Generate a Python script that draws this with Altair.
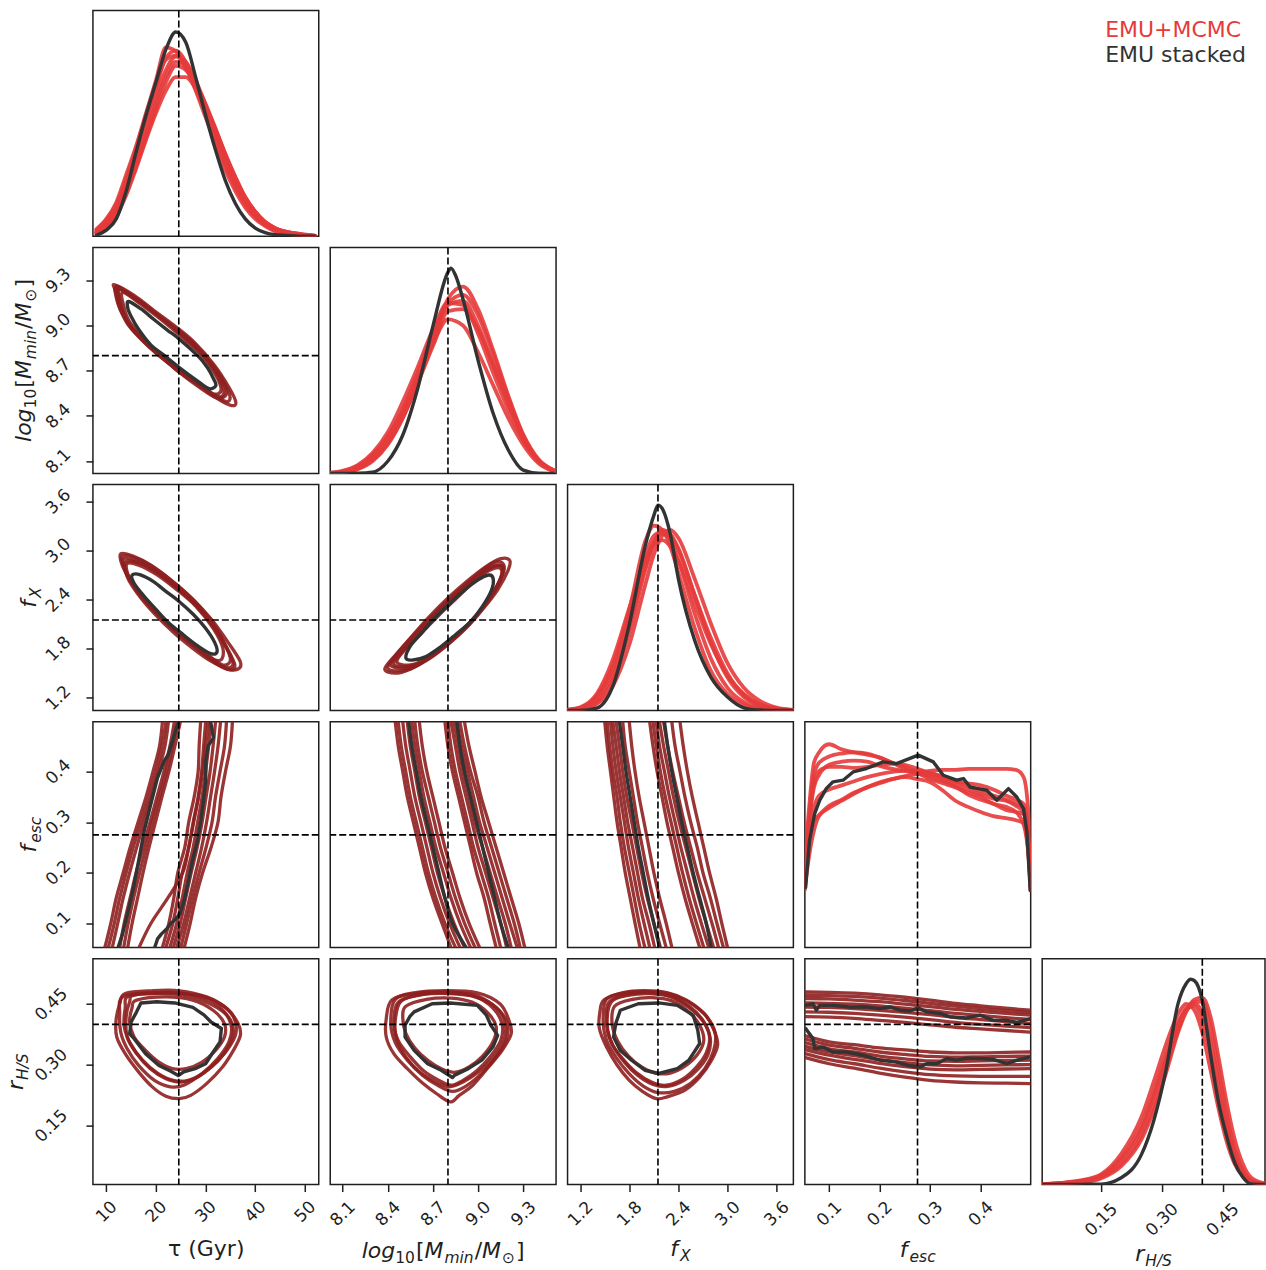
import altair as alt
import pandas as pd

FONT = "DejaVu Sans"
RED = "#e63b3b"
DRED = "#8e1f1f"
BLK = "#333333"
FRAME = "#1f1f1f"

PW = 226
PW_LAST = 223
GAP_COL = 11.5
GAP_ROW = 11.25

# ---------------- parameters / axes ----------------
TRUTH = {"tau": 24.6, "m": 8.80, "fx": 2.15, "fesc": 0.275, "r": 0.40}
DOM = {"tau": [7.3, 52.8], "m": [8.018, 9.518], "fx": [1.045, 3.805],
       "fesc": [0.052, 0.499], "r": [0.005, 0.562]}
TICKS = {"tau": [10, 20, 30, 40, 50], "m": [8.1, 8.4, 8.7, 9.0, 9.3],
         "fx": [1.2, 1.8, 2.4, 3.0, 3.6], "fesc": [0.1, 0.2, 0.3, 0.4],
         "r": [0.15, 0.30, 0.45]}
FMT = {"tau": "d", "m": ".1f", "fx": ".1f", "fesc": ".1f", "r": ".2f"}
XPAD = {"tau": 20, "m": 22, "fx": 22, "fesc": 22, "r": 28}
YPAD = {"m": 28, "fx": 28, "fesc": 28, "r": 35}

# ---------------- 1D marginals ----------------
TAU_GRID = [8, 10, 12, 14, 16, 18, 20, 22, 24, 26, 28, 30, 32, 34, 36, 38, 40, 42, 44, 48, 52]
TAU_BLACK = [0.005, 0.03, 0.085, 0.22, 0.41, 0.59, 0.75, 0.91, 0.995, 0.945, 0.775, 0.59,
             0.42, 0.27, 0.16, 0.085, 0.04, 0.018, 0.008, 0.002, 0.0]
TAU_RED = [
    [.035, .085, .165, .30, .44, .60, .76, .92, .90, .83, .71, .58, .45, .32, .22, .14, .085, .05, .025, .006, 0],
    [.025, .07, .14, .26, .41, .57, .72, .87, .905, .85, .74, .62, .49, .36, .25, .16, .10, .06, .035, .01, .001],
    [.02, .06, .125, .24, .38, .53, .68, .81, .875, .85, .76, .64, .51, .38, .26, .17, .105, .06, .035, .012, .002],
    [.015, .05, .11, .21, .34, .48, .62, .75, .83, .81, .74, .64, .52, .39, .28, .185, .12, .07, .04, .014, .003],
    [.012, .04, .10, .20, .33, .47, .60, .71, .775, .775, .72, .63, .52, .40, .29, .19, .12, .07, .04, .015, .003],
    [.03, .08, .155, .28, .43, .59, .74, .86, .88, .82, .72, .60, .47, .345, .24, .155, .095, .055, .03, .008, .001],
    [.018, .055, .12, .23, .36, .50, .65, .78, .85, .83, .75, .645, .525, .40, .285, .19, .12, .07, .04, .013, .002],
]

M_GRID = [8.02, 8.1, 8.2, 8.3, 8.4, 8.5, 8.6, 8.7, 8.8, 8.9, 9.0, 9.1, 9.2, 9.3, 9.4, 9.5]
M_BLACK_X = [8.02, 8.1, 8.2, 8.3, 8.4, 8.5, 8.6, 8.7, 8.8, 8.82, 8.85, 8.9, 9.0, 9.1, 9.2, 9.3, 9.4, 9.5]
M_BLACK_Y = [0, 0, .001, .006, .059, .187, .416, .717, .98, 1.0, .965, .848, .551, .293, .115, .016, .001, 0]
M_RED = [
    [.003, .012, .04, .10, .20, .35, .52, .70, .83, .82, .68, .49, .31, .16, .06, .015],
    [.001, .004, .02, .06, .14, .27, .45, .66, .85, .91, .80, .60, .38, .19, .07, .015],
    [.002, .01, .035, .09, .18, .31, .47, .63, .75, .72, .59, .43, .27, .14, .05, .01],
    [.001, .005, .025, .07, .15, .28, .45, .64, .83, .87, .77, .58, .37, .18, .065, .015],
    [.002, .008, .03, .08, .17, .31, .49, .68, .82, .84, .72, .53, .34, .17, .06, .014],
    [.001, .006, .022, .065, .145, .27, .44, .62, .79, .80, .70, .53, .35, .18, .065, .016],
]

FX_GRID = [1.04, 1.2, 1.4, 1.6, 1.8, 2.0, 2.1, 2.2, 2.3, 2.4, 2.6, 2.8, 3.0, 3.2, 3.4, 3.6, 3.8]
FX_BLACK_X = [1.04, 1.2, 1.4, 1.6, 1.8, 2.0, 2.1, 2.15, 2.2, 2.3, 2.4, 2.6, 2.8, 3.0, 3.2, 3.4, 3.6, 3.8]
FX_BLACK_Y = [0, 0, .011, .12, .42, .81, .95, 1.0, .985, .86, .64, .34, .16, .065, .013, .002, 0, 0]
FX_RED = [
    [.003, .012, .07, .22, .49, .83, .90, .88, .80, .67, .40, .19, .08, .028, .008, .002, 0],
    [.001, .006, .04, .15, .38, .69, .81, .88, .86, .79, .56, .33, .16, .065, .022, .006, .001],
    [.004, .016, .08, .25, .50, .74, .81, .83, .80, .73, .52, .32, .17, .08, .03, .01, .002],
    [.001, .004, .03, .12, .32, .62, .76, .85, .88, .84, .64, .42, .23, .11, .045, .014, .003],
    [.003, .013, .065, .20, .45, .76, .85, .87, .83, .73, .47, .25, .11, .04, .012, .003, 0],
    [.002, .009, .05, .17, .41, .71, .82, .86, .85, .78, .56, .35, .18, .075, .026, .008, .001],
]

FESC_GRID = [0.052, 0.06, 0.07, 0.08, 0.1, 0.125, 0.15, 0.175, 0.2, 0.225, 0.25, 0.275, 0.3,
             0.325, 0.35, 0.375, 0.4, 0.425, 0.45, 0.47, 0.485, 0.495, 0.499]
FESC_RED = [
    [.41, .67, .90, .95, .99, .965, .95, .94, .925, .90, .87, .85, .82, .80, .78, .755, .735, .70, .685, .66, .60, .44, .28],
    [.31, .59, .78, .84, .89, .905, .91, .905, .885, .87, .86, .85, .86, .865, .865, .87, .87, .87, .87, .865, .83, .635, .31],
    [.29, .44, .57, .64, .68, .715, .75, .78, .80, .82, .835, .845, .84, .82, .795, .77, .745, .725, .715, .69, .66, .47, .31],
    [.28, .59, .62, .645, .69, .72, .755, .78, .805, .82, .83, .82, .805, .765, .715, .685, .66, .64, .63, .62, .605, .44, .28],
    [.36, .59, .84, .90, .93, .945, .95, .945, .925, .90, .88, .855, .83, .81, .785, .745, .72, .70, .67, .66, .65, .505, .34],
    [.33, .62, .80, .86, .88, .88, .875, .88, .89, .895, .89, .87, .85, .83, .81, .80, .79, .77, .74, .72, .70, .52, .30],
    [.30, .52, .68, .74, .77, .79, .81, .83, .845, .855, .86, .86, .85, .835, .81, .785, .76, .74, .72, .70, .68, .50, .30],
]
FESC_BLACK_X = [.0535, .0612, .0714, .0813, .0946, .1078, .1276, .1475, .174, .207, .2335, .26, .2764,
                .3063, .326, .3523, .366, .3788, .3954, .412, .432, .455, .4715, .4848, .4915, .4981]
FESC_BLACK_Y = [.293, .521, .652, .717, .775, .807, .815, .855, .872, .904, .896, .921, .937,
                .904, .839, .815, .823, .782, .774, .766, .717, .774, .733, .676, .562, .277]

R_GRID = [0.005, 0.05, 0.1, 0.15, 0.2, 0.25, 0.28, 0.31, 0.34, 0.36, 0.38, 0.40, 0.42, 0.44, 0.46, 0.48, 0.50, 0.52, 0.555]
R_BLACK_X = [0.005, 0.05, 0.1, 0.15, 0.2, 0.25, 0.28, 0.31, 0.34, 0.36, 0.371, 0.38, 0.40, 0.42, 0.44, 0.46, 0.48, 0.50, 0.52, 0.555]
R_BLACK_Y = [0, 0, .001, .002, .033, .147, .31, .554, .88, .978, 1.0, .994, .896, .636, .40, .236, .106, .036, .003, 0]
R_RED = [
    [.002, .008, .02, .05, .15, .33, .50, .68, .83, .88, .85, .74, .56, .37, .21, .10, .04, .012, .002],
    [.001, .004, .01, .03, .09, .22, .36, .54, .74, .84, .90, .91, .82, .62, .40, .22, .10, .035, .005],
    [.002, .007, .018, .045, .13, .29, .45, .63, .79, .85, .87, .80, .64, .44, .26, .13, .05, .015, .002],
    [.001, .005, .012, .035, .10, .24, .39, .57, .75, .85, .89, .89, .77, .56, .34, .17, .07, .02, .003],
    [.002, .006, .015, .04, .12, .27, .43, .61, .78, .86, .88, .84, .70, .50, .30, .15, .06, .018, .002],
]

# ---------------- 2D contours ----------------
C10_RED = [
    [[11.7, 9.27], [15.6, 9.20], [19.6, 9.10], [23.7, 9.00], [27.7, 8.89], [31.7, 8.74], [34.7, 8.59], [36.1, 8.49],
     [35.1, 8.47], [31.7, 8.53], [28.4, 8.62], [24.3, 8.71], [20.3, 8.81], [17.0, 8.91], [14.3, 9.01], [12.4, 9.14], [11.7, 9.24]],
    [[12.3, 9.26], [16.3, 9.17], [20.3, 9.07], [24.3, 8.97], [28.4, 8.85], [31.7, 8.71], [33.4, 8.60], [33.6, 8.54],
     [32.4, 8.53], [29.0, 8.60], [25.0, 8.69], [21.0, 8.79], [17.3, 8.90], [14.6, 9.01], [12.9, 9.13], [12.4, 9.22]],
    [[13.3, 9.22], [17.0, 9.14], [21.0, 9.04], [25.0, 8.93], [29.0, 8.81], [31.7, 8.69], [33.1, 8.59], [32.7, 8.55],
     [31.1, 8.55], [28.4, 8.61], [24.3, 8.70], [20.7, 8.81], [17.3, 8.92], [14.6, 9.03], [13.5, 9.13]],
    [[12.6, 9.24], [16.6, 9.16], [20.7, 9.06], [24.7, 8.95], [28.7, 8.83], [32.1, 8.70], [34.1, 8.58], [33.9, 8.53],
     [32.1, 8.52], [28.7, 8.59], [24.7, 8.69], [20.9, 8.80], [17.3, 8.91], [14.3, 9.02], [12.9, 9.14]],
    [[12.0, 9.25], [16.0, 9.18], [20.0, 9.08], [24.0, 8.98], [28.0, 8.87], [31.9, 8.72], [34.4, 8.58], [34.9, 8.51],
     [33.7, 8.50], [30.3, 8.57], [26.6, 8.66], [22.6, 8.76], [18.6, 8.87], [15.2, 8.98], [12.9, 9.10], [12.0, 9.21]],
]
C10_BLK = [[[14.5, 9.16], [17.0, 9.11], [19.6, 9.04], [22.3, 8.97], [24.7, 8.91], [28.4, 8.80], [30.4, 8.72], [31.7, 8.64],
            [32.05, 8.60], [30.7, 8.58], [28.4, 8.63], [24.7, 8.72], [21.7, 8.80], [19.0, 8.87], [16.6, 8.97], [15.0, 9.06], [14.3, 9.12]]]

C20_RED = [
    [[12.9, 2.96], [15.5, 2.93], [19.0, 2.82], [23.0, 2.64], [27.0, 2.43], [31.0, 2.17], [34.5, 1.88], [37.0, 1.64],
     [36.5, 1.55], [34.0, 1.56], [30.0, 1.72], [26.0, 1.92], [22.0, 2.12], [18.0, 2.38], [15.0, 2.62], [13.2, 2.82]],
    [[13.5, 2.90], [16.0, 2.87], [19.5, 2.76], [23.5, 2.58], [27.5, 2.37], [31.0, 2.12], [33.8, 1.86], [35.0, 1.66],
     [33.5, 1.60], [30.5, 1.72], [26.5, 1.90], [22.5, 2.10], [18.5, 2.34], [15.5, 2.57], [13.8, 2.75]],
    [[14.2, 2.84], [16.5, 2.82], [20.0, 2.71], [24.0, 2.53], [28.0, 2.32], [31.5, 2.05], [33.5, 1.80], [33.0, 1.66],
     [30.5, 1.70], [27.0, 1.86], [23.0, 2.06], [19.0, 2.30], [16.0, 2.52], [14.4, 2.70]],
    [[13.8, 2.86], [17.0, 2.84], [20.5, 2.72], [24.5, 2.53], [28.5, 2.30], [32.0, 2.03], [34.8, 1.74], [35.5, 1.60],
     [34.0, 1.57], [31.0, 1.65], [27.5, 1.80], [23.5, 2.00], [19.5, 2.24], [16.2, 2.48], [14.2, 2.68]],
    [[13.2, 2.93], [16.2, 2.90], [19.8, 2.78], [23.8, 2.60], [27.8, 2.38], [31.6, 2.10], [34.4, 1.80], [35.9, 1.60],
     [35.0, 1.54], [32.0, 1.62], [28.3, 1.80], [24.3, 2.00], [20.2, 2.24], [16.5, 2.50], [14.0, 2.74]],
]
C20_BLK = [[[15.2, 2.70], [17.0, 2.70], [19.5, 2.62], [22.0, 2.50], [24.6, 2.38], [27.5, 2.22], [30.0, 2.05], [31.8, 1.88],
            [32.3, 1.76], [31.0, 1.74], [28.5, 1.83], [25.5, 1.97], [22.5, 2.12], [20.0, 2.28], [17.5, 2.45], [15.6, 2.60]]]

C21_RED = [
    [[8.38, 1.55], [8.45, 1.50], [8.55, 1.55], [8.68, 1.68], [8.80, 1.85], [8.92, 2.05], [9.03, 2.28], [9.13, 2.52],
     [9.20, 2.76], [9.21, 2.88], [9.15, 2.90], [9.05, 2.80], [8.93, 2.63], [8.80, 2.42], [8.67, 2.18], [8.55, 1.93], [8.45, 1.72]],
    [[8.42, 1.60], [8.50, 1.56], [8.60, 1.61], [8.72, 1.75], [8.84, 1.93], [8.95, 2.13], [9.05, 2.35], [9.13, 2.58],
     [9.17, 2.78], [9.12, 2.82], [9.03, 2.74], [8.92, 2.57], [8.80, 2.37], [8.68, 2.15], [8.57, 1.92], [8.47, 1.74]],
    [[8.46, 1.64], [8.54, 1.60], [8.64, 1.66], [8.76, 1.80], [8.87, 1.98], [8.98, 2.19], [9.08, 2.42], [9.15, 2.65],
     [9.15, 2.78], [9.08, 2.76], [8.98, 2.63], [8.87, 2.44], [8.75, 2.23], [8.63, 2.00], [8.52, 1.80]],
    [[8.40, 1.57], [8.49, 1.53], [8.58, 1.58], [8.70, 1.72], [8.82, 1.90], [8.94, 2.10], [9.04, 2.32], [9.12, 2.55],
     [9.17, 2.74], [9.16, 2.85], [9.09, 2.84], [8.99, 2.70], [8.87, 2.51], [8.75, 2.30], [8.62, 2.06], [8.50, 1.82]],
    [[8.44, 1.62], [8.52, 1.58], [8.62, 1.63], [8.74, 1.77], [8.86, 1.95], [8.97, 2.16], [9.07, 2.39], [9.14, 2.62],
     [9.16, 2.80], [9.10, 2.80], [9.00, 2.68], [8.89, 2.50], [8.77, 2.29], [8.65, 2.06], [8.54, 1.85]],
]
C21_BLK = [[[8.52, 1.69], [8.56, 1.66], [8.65, 1.70], [8.75, 1.82], [8.85, 1.97], [8.95, 2.13], [9.03, 2.32], [9.09, 2.52],
            [9.10, 2.66], [9.07, 2.70], [9.0, 2.64], [8.90, 2.50], [8.80, 2.33], [8.70, 2.15], [8.62, 1.98], [8.55, 1.83]]]

# f_esc rows: contour edges read at these f_esc levels (top to bottom)
FESC_LEVELS = [0.498, 0.45, 0.40, 0.35, 0.30, 0.25, 0.20, 0.15, 0.10, 0.052]
C30_RED_X = [
    [21.3, 20.7, 19.4, 18.0, 16.4, 14.8, 13.4, 12.0, 10.9, 9.7],
    [22.0, 21.2, 20.0, 18.6, 17.0, 15.4, 14.0, 12.7, 11.6, 10.4],
    [22.5, 21.8, 20.5, 19.1, 17.6, 16.1, 14.7, 13.4, 12.3, 11.2],
    [23.7, 22.8, 21.6, 20.2, 18.8, 17.4, 16.0, 14.8, 13.6, 12.7],
    [24.3, 23.3, 22.1, 20.7, 19.3, 18.0, 16.7, 15.5, 14.4, 13.5],
    [24.9, 23.8, 22.6, 21.2, 19.9, 18.6, 17.4, 16.3, 15.2, 14.3],
    [29.0, 28.7, 28.5, 27.7, 26.6, 25.8, 24.4, 23.6, 22.6, 21.3],
    [30.0, 29.6, 29.2, 28.5, 27.5, 26.6, 25.3, 24.4, 23.4, 22.0],
    [31.0, 30.6, 30.0, 29.3, 28.4, 27.5, 26.3, 25.3, 24.2, 22.8],
    [32.0, 31.5, 30.9, 30.1, 29.3, 28.3, 27.1, 26.0, 24.9, 23.5],
    [33.0, 32.5, 31.8, 31.0, 30.2, 29.2, 28.0, 26.8, 25.6, 24.2],
    [34.2, 33.8, 32.9, 32.0, 31.3, 30.1, 28.7, 27.4, 26.2, 25.0],
    [35.4, 35.0, 34.0, 33.1, 32.5, 31.1, 29.4, 28.0, 26.9, 25.7],
    [30.5, 30.0, 29.4, 28.6, 27.6, 26.6, 25.4, 22.4, 19.0, 16.6],
]
C30_BLK = [
    [[24.48, .497], [24.0, .483], [23.33, .460], [22.46, .434], [21.65, .421], [20.31, .388], [18.97, .336],
     [17.63, .283], [16.63, .230], [15.49, .171], [14.28, .119], [13.27, .079], [12.4, .053]],
    [[31.05, .497], [31.58, .467], [30.51, .451], [30.04, .421], [30.04, .382], [29.57, .342], [29.03, .303],
     [28.36, .263], [27.36, .224], [26.55, .184], [25.68, .145], [24.88, .119], [23.67, .105], [22.86, .099],
     [22.19, .089], [21.12, .079], [20.31, .069], [19.78, .053]],
]
C31_RED_X = [
    [8.45, 8.47, 8.50, 8.53, 8.57, 8.61, 8.65, 8.70, 8.76, 8.82],
    [8.47, 8.49, 8.52, 8.55, 8.59, 8.63, 8.67, 8.72, 8.78, 8.85],
    [8.50, 8.52, 8.55, 8.58, 8.62, 8.66, 8.70, 8.75, 8.81, 8.88],
    [8.53, 8.55, 8.58, 8.61, 8.65, 8.69, 8.73, 8.78, 8.84, 8.91],
    [8.56, 8.58, 8.61, 8.64, 8.68, 8.72, 8.77, 8.82, 8.88, 8.95],
    [8.58, 8.60, 8.63, 8.67, 8.71, 8.75, 8.80, 8.85, 8.91, 8.98],
    [8.61, 8.63, 8.66, 8.70, 8.74, 8.78, 8.83, 8.88, 8.94, 9.01],
    [8.78, 8.80, 8.83, 8.87, 8.91, 8.95, 8.99, 9.04, 9.08, 9.12],
    [8.80, 8.82, 8.85, 8.89, 8.93, 8.97, 9.02, 9.07, 9.11, 9.15],
    [8.82, 8.85, 8.88, 8.92, 8.96, 9.00, 9.05, 9.10, 9.15, 9.19],
    [8.84, 8.87, 8.90, 8.94, 8.98, 9.03, 9.08, 9.13, 9.18, 9.22],
    [8.86, 8.89, 8.93, 8.97, 9.01, 9.06, 9.11, 9.16, 9.21, 9.26],
    [8.88, 8.91, 8.95, 9.00, 9.04, 9.09, 9.14, 9.19, 9.24, 9.28],
    [8.91, 8.94, 8.98, 9.02, 9.07, 9.12, 9.17, 9.22, 9.27, 9.31],
]
C31_BLK_X = [
    [8.54, 8.56, 8.59, 8.62, 8.66, 8.70, 8.74, 8.78, 8.83, 8.92],
    [8.86, 8.88, 8.91, 8.95, 8.99, 9.03, 9.07, 9.11, 9.15, 9.20],
]
C32_RED_X = [
    [1.50, 1.53, 1.57, 1.61, 1.65, 1.70, 1.75, 1.81, 1.87, 1.93],
    [1.53, 1.56, 1.60, 1.65, 1.69, 1.74, 1.80, 1.86, 1.92, 1.99],
    [1.57, 1.60, 1.64, 1.69, 1.74, 1.79, 1.85, 1.91, 1.98, 2.05],
    [1.60, 1.64, 1.68, 1.73, 1.78, 1.84, 1.90, 1.96, 2.04, 2.11],
    [1.64, 1.68, 1.72, 1.77, 1.83, 1.89, 1.95, 2.02, 2.10, 2.18],
    [1.72, 1.75, 1.80, 1.85, 1.90, 1.96, 2.02, 2.09, 2.17, 2.25],
    [1.80, 1.83, 1.87, 1.92, 1.98, 2.04, 2.10, 2.17, 2.25, 2.32],
    [2.05, 2.09, 2.14, 2.20, 2.26, 2.33, 2.40, 2.48, 2.57, 2.66],
    [2.09, 2.13, 2.18, 2.24, 2.31, 2.38, 2.45, 2.53, 2.62, 2.71],
    [2.13, 2.17, 2.23, 2.29, 2.36, 2.43, 2.51, 2.59, 2.68, 2.77],
    [2.17, 2.22, 2.28, 2.34, 2.41, 2.49, 2.57, 2.65, 2.74, 2.83],
    [2.22, 2.27, 2.33, 2.40, 2.47, 2.55, 2.63, 2.72, 2.81, 2.89],
    [2.32, 2.36, 2.42, 2.48, 2.55, 2.63, 2.70, 2.79, 2.87, 2.95],
    [2.42, 2.46, 2.51, 2.57, 2.64, 2.71, 2.78, 2.86, 2.93, 3.00],
]
C32_BLK_X = [
    [1.68, 1.72, 1.76, 1.81, 1.86, 1.91, 1.97, 2.03, 2.10, 2.17],
    [2.23, 2.27, 2.32, 2.38, 2.44, 2.51, 2.58, 2.66, 2.74, 2.80],
]

C40_RED = [
    [[13.8, .476], [19.25, .483], [24.7, .483], [30.2, .468], [34.3, .439], [36.55, .402], [37.0, .373], [35.6, .336],
     [33.4, .295], [30.2, .254], [27.0, .225], [24.7, .217], [22.0, .223], [19.25, .246], [16.5, .283], [13.8, .328],
     [12.1, .369], [11.96, .410], [12.7, .451]],
    [[15.6, .472], [22.0, .478], [28.4, .472], [32.9, .451], [35.6, .419], [36.1, .377], [34.3, .336], [31.5, .299],
     [28.4, .270], [25.2, .258], [22.0, .266], [18.8, .291], [16.1, .328], [14.2, .369], [14.0, .419], [14.7, .456]],
    [[16.1, .460], [22.0, .468], [27.4, .460], [31.5, .435], [33.8, .402], [33.8, .369], [32.0, .336], [29.3, .307],
     [26.1, .291], [23.3, .291], [20.6, .307], [17.9, .336], [15.6, .369], [14.7, .406], [15.15, .439]],
    [[13.3, .468], [19.25, .478], [25.6, .476], [30.6, .460], [33.8, .431], [35.2, .394], [34.7, .357], [32.45, .316],
     [29.3, .279], [25.6, .250], [22.9, .246], [19.7, .262], [16.5, .299], [14.2, .340], [12.9, .381], [12.7, .427]],
    [[14.5, .470], [20.6, .476], [26.5, .470], [31.0, .450], [34.5, .420], [35.6, .385], [34.8, .350], [32.5, .310],
     [29.5, .280], [26.5, .262], [23.5, .262], [20.3, .280], [17.3, .312], [14.9, .352], [13.6, .395], [13.8, .440]],
]
C40_BLK = [[[16.97, .453], [20.15, .456], [23.8, .453], [27.44, .442], [29.72, .423], [31.09, .406], [33.18, .390],
            [32.91, .357], [31.54, .332], [30.0, .303], [27.9, .291], [25.6, .283], [24.5, .274], [22.9, .285],
            [20.6, .299], [17.9, .328], [15.6, .365], [14.7, .377], [15.0, .406], [16.1, .431]]]

C41_RED = [
    [[8.426, .460], [8.575, .478], [8.785, .483], [8.995, .478], [9.145, .451], [9.205, .410], [9.22, .377], [9.16, .336],
     [9.07, .295], [8.965, .250], [8.875, .225], [8.815, .209], [8.725, .229], [8.635, .254], [8.53, .291], [8.44, .328],
     [8.39, .369], [8.39, .414]],
    [[8.47, .455], [8.62, .474], [8.80, .478], [8.97, .470], [9.10, .440], [9.16, .400], [9.15, .360], [9.08, .320],
     [8.99, .285], [8.90, .262], [8.82, .250], [8.74, .262], [8.64, .285], [8.55, .320], [8.47, .360], [8.44, .405]],
    [[8.52, .445], [8.66, .462], [8.82, .465], [8.96, .455], [9.06, .430], [9.12, .395], [9.10, .358], [9.03, .322],
     [8.94, .295], [8.85, .282], [8.76, .290], [8.67, .310], [8.58, .342], [8.52, .378], [8.50, .415]],
    [[8.45, .462], [8.60, .477], [8.78, .480], [8.96, .474], [9.10, .448], [9.19, .408], [9.19, .365], [9.12, .320],
     [9.02, .278], [8.92, .248], [8.83, .235], [8.74, .248], [8.63, .275], [8.53, .312], [8.45, .355], [8.42, .405]],
    [[8.49, .458], [8.64, .474], [8.81, .476], [8.98, .468], [9.12, .442], [9.18, .402], [9.17, .360], [9.10, .318],
     [9.00, .282], [8.90, .258], [8.81, .246], [8.72, .258], [8.61, .283], [8.52, .320], [8.46, .362], [8.45, .410]],
]
C41_BLK = [[[8.575, .431], [8.695, .451], [8.815, .453], [8.995, .447], [9.055, .423], [9.085, .398], [9.13, .373],
            [9.10, .345], [9.025, .312], [8.935, .291], [8.845, .275], [8.83, .269], [8.755, .287], [8.665, .303],
            [8.575, .336], [8.515, .369], [8.515, .398], [8.546, .419]]]

C42_RED = [
    [[1.49, .460], [1.713, .478], [1.99, .483], [2.27, .478], [2.50, .460], [2.715, .427], [2.826, .390], [2.88, .350],
     [2.80, .310], [2.66, .270], [2.48, .238], [2.27, .222], [2.13, .217], [1.96, .235], [1.80, .262], [1.65, .300],
     [1.52, .345], [1.434, .390], [1.44, .430]],
    [[1.55, .455], [1.77, .474], [2.03, .478], [2.30, .470], [2.53, .445], [2.70, .410], [2.78, .370], [2.74, .330],
     [2.62, .295], [2.45, .265], [2.25, .250], [2.07, .258], [1.88, .282], [1.72, .315], [1.58, .355], [1.52, .405]],
    [[1.62, .445], [1.84, .462], [2.08, .466], [2.32, .458], [2.52, .432], [2.66, .398], [2.71, .360], [2.63, .325],
     [2.48, .297], [2.30, .280], [2.12, .280], [1.95, .295], [1.79, .322], [1.66, .358], [1.59, .400]],
    [[1.52, .462], [1.75, .478], [2.02, .481], [2.30, .475], [2.55, .452], [2.75, .418], [2.85, .378], [2.83, .335],
     [2.72, .290], [2.55, .255], [2.35, .235], [2.15, .232], [1.97, .248], [1.80, .278], [1.64, .318], [1.52, .362],
     [1.48, .410]],
    [[1.58, .455], [1.80, .472], [2.05, .476], [2.31, .468], [2.54, .440], [2.71, .405], [2.79, .365], [2.76, .325],
     [2.64, .290], [2.47, .262], [2.27, .247], [2.09, .252], [1.90, .275], [1.74, .307], [1.60, .348], [1.53, .398]],
]
C42_BLK = [[[1.69, .435], [1.91, .451], [2.16, .453], [2.386, .447], [2.58, .423], [2.636, .386], [2.66, .353],
            [2.58, .328], [2.525, .311], [2.386, .291], [2.16, .279], [1.99, .287], [1.83, .311], [1.69, .336],
            [1.607, .369], [1.634, .402]]]

C43_GRID = [0.053, 0.1, 0.15, 0.2, 0.25, 0.3, 0.35, 0.4, 0.45, 0.498]
C43_RED_Y = [
    [.480, .479, .477, .473, .467, .460, .452, .446, .440, .435],
    [.472, .471, .469, .465, .459, .452, .445, .439, .434, .429],
    [.464, .463, .460, .456, .450, .444, .437, .432, .427, .423],
    [.453, .452, .450, .446, .440, .434, .427, .422, .417, .412],
    [.443, .442, .439, .435, .430, .424, .417, .412, .407, .402],
    [.431, .430, .427, .423, .418, .412, .405, .400, .396, .392],
    [.419, .418, .415, .410, .405, .399, .393, .389, .385, .381],
    [.372, .357, .350, .342, .337, .332, .330, .330, .331, .332],
    [.364, .349, .341, .332, .326, .321, .319, .320, .321, .322],
    [.355, .340, .332, .322, .315, .310, .309, .310, .311, .312],
    [.346, .332, .323, .313, .306, .300, .298, .299, .300, .301],
    [.338, .324, .314, .304, .296, .290, .288, .289, .290, .291],
    [.328, .313, .303, .292, .283, .276, .273, .272, .272, .272],
    [.318, .303, .292, .280, .270, .262, .258, .256, .255, .254],
]
C43_BLK = [
    [[.0536, .447], [.068, .451], [.0747, .435], [.0813, .447], [.108, .447], [.141, .443], [.174, .443], [.200, .439],
     [.220, .443], [.240, .435], [.260, .433], [.276, .441], [.293, .431], [.319, .427], [.339, .419], [.372, .416],
     [.399, .423], [.425, .410], [.452, .410], [.472, .405], [.498, .414]],
    [[.0536, .390], [.068, .365], [.0714, .340], [.088, .344], [.108, .332], [.134, .332], [.167, .324], [.200, .312],
     [.233, .307], [.260, .298], [.280, .295], [.293, .303], [.313, .303], [.333, .316], [.352, .312], [.372, .317],
     [.399, .316], [.425, .314], [.452, .303], [.472, .312], [.498, .320]],
]

# ---------------- text ----------------
LEGEND = [("EMU+MCMC", RED), ("EMU stacked", BLK)]
F_MAIN = 22
F_SUB = 15.5
SUB = 5
TITLE_SEGS = {
    "tau": [("τ (Gyr)", F_MAIN, False, 0, 0)],
    "m": [("log", F_MAIN, True, 0, 0), ("10", F_SUB, False, SUB, 1), ("[", F_MAIN, False, 0, 0),
          ("M", F_MAIN, True, 0, 1), ("min", F_SUB, True, SUB, 1), ("/", F_MAIN, False, 0, 0),
          ("M", F_MAIN, True, 0, 1), ("⊙", F_SUB, False, SUB, 1), ("]", F_MAIN, False, 0, 0)],
    "fx": [("f", F_MAIN, True, 0, 2), ("X", F_SUB, True, SUB, 0)],
    "fesc": [("f", F_MAIN, True, 0, 2), ("esc", F_SUB, True, SUB, 0)],
    "r": [("r", F_MAIN, True, 0, 1), ("H/S", F_SUB, True, SUB, 0)],
}
CW = {'l': .278, 'o': .612, 'g': .635, '1': .636, '0': .636, '[': .390, ']': .390, 'M': .863, 'm': .974,
      'i': .278, 'n': .634, '/': .337, '⊙': .838, 'f': .352, 'X': .685, 'e': .615, 's': .521, 'c': .550,
      'r': .411, 'H': .752, 'S': .635, 'τ': .562, ' ': .318, '(': .390, ')': .390, 'G': .775, 'y': .592}
XTITLE_BASE = {"tau": 297, "m": 299, "fx": 297, "fesc": 298, "r": 302}
YTITLE_BASE = {"m": -62, "fx": -57, "fesc": -57, "r": -70}

ONE = pd.DataFrame({"a": [0]})


def xdom(var, width):
    a, b = DOM[var]
    return [a, a + (b - a) * width / PW]


def axis_x(var):
    return alt.Axis(values=TICKS[var], format=FMT[var], labelAngle=315, labelAlign="center",
                    labelBaseline="middle", labelPadding=XPAD[var], tickSize=7, tickWidth=1.5,
                    tickColor=FRAME, labelColor=FRAME, labelFontSize=17, labelFont=FONT,
                    domain=False, grid=False, title=None, labelFlush=False, labelOverlap=False)


def axis_y(var):
    return alt.Axis(values=TICKS[var], format=FMT[var], labelAngle=315, labelAlign="center",
                    labelBaseline="middle", labelPadding=YPAD[var], tickSize=7, tickWidth=1.5,
                    tickColor=FRAME, labelColor=FRAME, labelFontSize=17, labelFont=FONT,
                    domain=False, grid=False, title=None, labelFlush=False, labelOverlap=False)


def curves_df(curves):
    rows = []
    for k, cur in enumerate(curves):
        for i, (x, y) in enumerate(cur):
            rows.append({"x": x, "y": y, "c": k, "i": i})
    return pd.DataFrame(rows)


def title_marks(var, cx, cy, vertical):
    segs = TITLE_SEGS[var]
    widths = [sum(CW.get(ch, 0.6) for ch in t) * s + k for (t, s, it, sh, k) in segs]
    total = sum(widths)
    off = -total / 2
    out = []
    for (t, s, it, sh, k), wdt in zip(segs, widths):
        if vertical:
            x, y, ang = cx + sh, cy - off, 270
        else:
            x, y, ang = cx + off, cy + sh, 0
        out.append(alt.Chart(ONE).mark_text(
            text=t, font=FONT, fontSize=s, fontStyle="italic" if it else "normal",
            align="left", baseline="alphabetic", angle=ang, color=FRAME
        ).encode(x=alt.value(x), y=alt.value(y)))
        off += wdt
    return out


def panel(xvar, yvar, reds, blacks, red_color, red_w, red_interp, blk_interp, width, show_x, show_y):
    xs = alt.Scale(domain=xdom(xvar, width), nice=False, zero=False)
    ydomain = [0, 1.1] if yvar is None else DOM[yvar]
    ys = alt.Scale(domain=ydomain, nice=False, zero=False)
    xa = axis_x(xvar) if show_x else None
    ya = axis_y(yvar) if (show_y and yvar is not None) else None

    def lines(curves, color, sw, interp, op):
        return alt.Chart(curves_df(curves)).mark_line(
            color=color, strokeWidth=sw, opacity=op, interpolate=interp, clip=True,
            strokeCap="round", strokeJoin="round"
        ).encode(x=alt.X("x:Q", scale=xs, axis=xa), y=alt.Y("y:Q", scale=ys, axis=ya),
                 detail="c:N", order="i:Q")

    layers = [lines(reds, red_color, red_w, red_interp, 0.9),
              lines(blacks, BLK, 3.4, blk_interp, 1.0)]
    layers.append(alt.Chart(pd.DataFrame({"v": [TRUTH[xvar]]})).mark_rule(
        color="black", strokeDash=[7, 3], strokeWidth=1.6).encode(x=alt.X("v:Q", scale=xs, axis=xa)))
    if yvar is not None:
        layers.append(alt.Chart(pd.DataFrame({"v": [TRUTH[yvar]]})).mark_rule(
            color="black", strokeDash=[7, 3], strokeWidth=1.6).encode(y=alt.Y("v:Q", scale=ys, axis=ya)))
    if show_x:
        layers += title_marks(xvar, width / 2, XTITLE_BASE[xvar], False)
    if show_y and yvar is not None:
        layers += title_marks(yvar, YTITLE_BASE[yvar], PW / 2, True)
    return alt.layer(*layers).properties(width=width, height=PW)


def empty_cell(width):
    return alt.Chart(ONE).mark_text(text="", fontSize=1).encode(
        x=alt.value(width / 2), y=alt.value(PW / 2)).properties(
        width=width, height=PW, view=alt.ViewBackground(stroke="transparent"))


def legend_cell(width):
    marks = []
    for j, (label, col) in enumerate(LEGEND):
        marks.append(alt.Chart(ONE).mark_text(text=label, font=FONT, fontSize=22, align="left",
                                              baseline="alphabetic", color=col)
                     .encode(x=alt.value(63), y=alt.value(27 + 25 * j)))
    return alt.layer(*marks).properties(width=width, height=PW, view=alt.ViewBackground(stroke="transparent"))


def pairs(xs_list, ys_list):
    return [list(zip(a, b)) for a, b in zip(xs_list, ys_list)]


VARS = ["tau", "m", "fx", "fesc", "r"]
DIAG = {
    "tau": (pairs([TAU_GRID] * len(TAU_RED), TAU_RED), [list(zip(TAU_GRID, TAU_BLACK))]),
    "m": (pairs([M_GRID] * len(M_RED), M_RED), [list(zip(M_BLACK_X, M_BLACK_Y))]),
    "fx": (pairs([FX_GRID] * len(FX_RED), FX_RED), [list(zip(FX_BLACK_X, FX_BLACK_Y))]),
    "fesc": (pairs([FESC_GRID] * len(FESC_RED), FESC_RED), [list(zip(FESC_BLACK_X, FESC_BLACK_Y))]),
    "r": (pairs([R_GRID] * len(R_RED), R_RED), [list(zip(R_BLACK_X, R_BLACK_Y))]),
}
CONT = {
    (1, 0): (C10_RED, C10_BLK, "cardinal-closed", "cardinal-closed"),
    (2, 0): (C20_RED, C20_BLK, "cardinal-closed", "cardinal-closed"),
    (2, 1): (C21_RED, C21_BLK, "cardinal-closed", "cardinal-closed"),
    (3, 0): (pairs(C30_RED_X, [FESC_LEVELS] * len(C30_RED_X)), C30_BLK, "cardinal", "linear"),
    (3, 1): (pairs(C31_RED_X, [FESC_LEVELS] * len(C31_RED_X)),
             pairs(C31_BLK_X, [FESC_LEVELS] * len(C31_BLK_X)), "cardinal", "cardinal"),
    (3, 2): (pairs(C32_RED_X, [FESC_LEVELS] * len(C32_RED_X)),
             pairs(C32_BLK_X, [FESC_LEVELS] * len(C32_BLK_X)), "cardinal", "cardinal"),
    (4, 0): (C40_RED, C40_BLK, "cardinal-closed", "linear-closed"),
    (4, 1): (C41_RED, C41_BLK, "cardinal-closed", "linear-closed"),
    (4, 2): (C42_RED, C42_BLK, "cardinal-closed", "linear-closed"),
    (4, 3): (pairs([C43_GRID] * len(C43_RED_Y), C43_RED_Y), C43_BLK, "monotone", "linear"),
}

cells = []
for row in range(5):
    for col in range(5):
        w = PW_LAST if col == 4 else PW
        if col > row:
            cells.append(legend_cell(w) if (row == 0 and col == 4) else empty_cell(w))
            continue
        show_x = row == 4
        show_y = col == 0 and row > 0
        if row == col:
            reds, blacks = DIAG[VARS[col]]
            cells.append(panel(VARS[col], None, reds, blacks, RED, 3.8, "monotone",
                               "linear" if VARS[col] == "fesc" else "monotone", w, show_x, False))
        else:
            reds, blacks, ri, bi = CONT[(row, col)]
            cells.append(panel(VARS[col], VARS[row], reds, blacks, DRED, 3.3, ri, bi, w, show_x, show_y))

chart = alt.concat(*cells, columns=5, spacing={"row": GAP_ROW, "column": GAP_COL}, bounds="flush").properties(
    padding={"left": 4, "top": 8, "right": 0, "bottom": 0}
).configure(font=FONT, background="white").configure_view(stroke=FRAME, strokeWidth=1.5)

chart.save("out.html", embed_options={"renderer": "svg", "actions": False})
